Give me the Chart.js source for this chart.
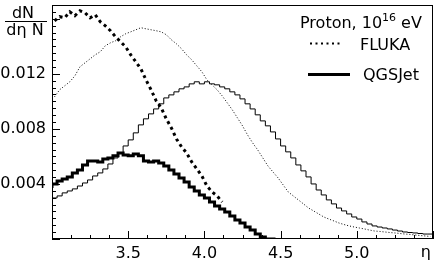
<!DOCTYPE html>
<html>
<head>
<meta charset="utf-8">
<script src="https://cdn.jsdelivr.net/npm/chart.js@4/dist/chart.umd.min.js"></script>
<style>
  body { margin: 0; background: #fff; }
  canvas { display: block; }
</style>
</head>
<body>
<canvas id="etaChart" width="442" height="262"></canvas>
<script>
// Binning of the eta histograms
var etaStart = 3.0;
var binWidth = 1 / 30;

// Tick labels
var xTickValues = [3.5, 4.0, 4.5, 5.0];
var yTickValues = [0.004, 0.008, 0.012];

// FLUKA, thick dotted
var flukaThick = [0.01585, 0.01615, 0.01607, 0.01651, 0.01622, 0.01658, 0.01644, 0.01607, 0.01629, 0.01578,
    0.01549, 0.01513, 0.01469, 0.01433, 0.01396, 0.01338, 0.01287, 0.01236, 0.01156, 0.01084,
    0.01004, 0.00953, 0.00873, 0.00807, 0.00727, 0.00669, 0.00625, 0.00560, 0.00509, 0.00458,
    0.00385, 0.00342, 0.00313, 0.00269];

// FLUKA, thin dotted
var flukaThin = [0.01033, 0.01084, 0.01113, 0.01142, 0.01185, 0.01251, 0.01280, 0.01309, 0.01338, 0.01360,
    0.01404, 0.01425, 0.01440, 0.01469, 0.01491, 0.01505, 0.01520, 0.01535, 0.01527, 0.01520,
    0.01513, 0.01505, 0.01484, 0.01447, 0.01418, 0.01382, 0.01338, 0.01302, 0.01258, 0.01215,
    0.01156, 0.01120, 0.01084, 0.01040, 0.00989, 0.00938, 0.00880, 0.00822, 0.00756, 0.00698,
    0.00647, 0.00589, 0.00531, 0.00487, 0.00444, 0.00393, 0.00342, 0.00313, 0.00284, 0.00255,
    0.00225, 0.00204, 0.00182, 0.00160, 0.00145, 0.00131, 0.00116, 0.00105, 0.00095, 0.00087,
    0.00080, 0.00073, 0.00065, 0.00058, 0.00055, 0.00051, 0.00047, 0.00044, 0.00040, 0.00036,
    0.00033, 0.00029, 0.00025, 0.00022, 0.00018];

// QGSJet, thick solid
var qgsThick = [0.00371, 0.00400, 0.00422, 0.00436, 0.00451, 0.00480, 0.00502, 0.00538, 0.00567, 0.00567,
    0.00560, 0.00582, 0.00589, 0.00604, 0.00625, 0.00611, 0.00604, 0.00618, 0.00604, 0.00567,
    0.00560, 0.00567, 0.00553, 0.00531, 0.00502, 0.00473, 0.00444, 0.00415, 0.00378, 0.00349,
    0.00320, 0.00298, 0.00269, 0.00240, 0.00218, 0.00196, 0.00167, 0.00138, 0.00116, 0.00087,
    0.00065, 0.00036, 0.00015, 0];

// QGSJet, thin solid
var qgsThin = [0.00284, 0.00298, 0.00313, 0.00335, 0.00349, 0.00364, 0.00385, 0.00407, 0.00429, 0.00458,
    0.00480, 0.00509, 0.00545, 0.00589, 0.00625, 0.00676, 0.00720, 0.00771, 0.00829, 0.00873,
    0.00909, 0.00945, 0.00982, 0.01025, 0.01047, 0.01069, 0.01091, 0.01105, 0.01127, 0.01142,
    0.01127, 0.01142, 0.01127, 0.01120, 0.01105, 0.01091, 0.01069, 0.01047, 0.01018, 0.00982,
    0.00945, 0.00902, 0.00858, 0.00822, 0.00778, 0.00727, 0.00676, 0.00633, 0.00589, 0.00538,
    0.00495, 0.00451, 0.00400, 0.00356, 0.00320, 0.00284, 0.00255, 0.00225, 0.00204, 0.00182,
    0.00160, 0.00145, 0.00124, 0.00109, 0.00095, 0.00087, 0.00080, 0.00073, 0.00065, 0.00058,
    0.00051, 0.00047, 0.00044, 0.00040, 0.00036];

var FONT = '"DejaVu Sans", sans-serif';

// points at bin centres (for the dotted polylines)
function centres(values) {
    return values.map(function(v, i) {
        return { x: etaStart + (i + 0.5) * binWidth, y: v };
    });
}

// points at bin edges (for the step histograms)
function edges(values) {
    var pts = values.map(function(v, i) {
        return { x: etaStart + i * binWidth, y: v };
    });
    pts.push({ x: etaStart + values.length * binWidth, y: values[values.length - 1] });
    return pts;
}

var decorations = {
    id: 'decorations',
    afterDraw: function(chart) {
        var ctx = chart.ctx;
        var area = chart.chartArea;
        var xs = chart.scales.x;
        var ys = chart.scales.y;
        var k, px, py, len;

        ctx.save();
        ctx.strokeStyle = '#000';
        ctx.fillStyle = '#000';
        ctx.lineWidth = 1;

        // frame
        ctx.strokeRect(area.left + 0.5, area.top + 0.5, area.right - area.left - 1, area.bottom - area.top - 1);

        // ticks, drawn inside the frame
        ctx.beginPath();
        for (k = 0; k <= 20; k++) {
            px = Math.round(xs.getPixelForValue(3.0 + k * 0.125)) + 0.5;
            len = (k % 4 === 0) ? 8 : 4;
            ctx.moveTo(px, area.bottom);
            ctx.lineTo(px, area.bottom - len);
        }
        for (k = 0; k <= 34; k++) {
            py = Math.round(ys.getPixelForValue(k * 0.0005)) + 0.5;
            len = (k % 8 === 0) ? 8 : 4;
            ctx.moveTo(area.left, py);
            ctx.lineTo(area.left + len, py);
        }
        ctx.stroke();

        // y title  dN / (dη N)
        ctx.font = '16px ' + FONT;
        ctx.textAlign = 'center';
        ctx.textBaseline = 'alphabetic';
        ctx.fillText('dN', 23, 18);
        ctx.beginPath();
        ctx.moveTo(5, 21.5);
        ctx.lineTo(47, 21.5);
        ctx.stroke();
        ctx.fillText('dη N', 25, 35);

        // x title
        ctx.textAlign = 'right';
        ctx.fillText('η', 431, 257);

        // legend
        ctx.textAlign = 'left';
        var t1 = 'Proton, 10';
        ctx.fillText(t1, 300, 28);
        var w1 = ctx.measureText(t1).width;
        ctx.font = '11px ' + FONT;
        ctx.fillText('16', 300 + w1, 21);
        var w2 = ctx.measureText('16').width;
        ctx.font = '16px ' + FONT;
        ctx.fillText('eV', 300 + w1 + w2 + 5, 28);

        ctx.fillText('FLUKA', 360, 50);
        ctx.fillText('QGSJet', 363, 80);

        ctx.lineWidth = 2;
        ctx.setLineDash([2, 3.5]);
        ctx.beginPath();
        ctx.moveTo(310, 43.5);
        ctx.lineTo(343, 43.5);
        ctx.stroke();

        ctx.setLineDash([]);
        ctx.lineWidth = 3;
        ctx.beginPath();
        ctx.moveTo(308, 74.5);
        ctx.lineTo(350, 74.5);
        ctx.stroke();

        ctx.restore();
    }
};

var chart = new Chart(document.getElementById('etaChart'), {
    type: 'line',
    data: {
        datasets: [{
            label: 'FLUKA thin',
            data: centres(flukaThin),
            borderColor: '#000',
            borderWidth: 1,
            borderDash: [1, 2],
            tension: 0
        }, {
            label: 'QGSJet thin',
            data: edges(qgsThin),
            borderColor: '#000',
            borderWidth: 1,
            stepped: 'after'
        }, {
            label: 'QGSJet thick',
            data: edges(qgsThick),
            borderColor: '#000',
            borderWidth: 3,
            stepped: 'after'
        }, {
            label: 'FLUKA thick',
            data: centres(flukaThick),
            borderColor: '#000',
            borderWidth: 3,
            borderDash: [3, 3.5],
            borderCapStyle: 'butt',
            tension: 0
        }]
    },
    options: {
        responsive: false,
        animation: false,
        devicePixelRatio: 1,
        layout: { autoPadding: false, padding: { top: 5, right: 9, left: 0, bottom: 0 } },
        elements: { point: { radius: 0 } },
        plugins: { legend: { display: false }, tooltip: { enabled: false } },
        scales: {
            x: {
                type: 'linear',
                min: 3.0,
                max: 5.5,
                grid: { display: false, drawTicks: false },
                border: { display: false },
                afterBuildTicks: function(scale) {
                    scale.ticks = xTickValues.map(function(v) { return { value: v }; });
                },
                afterFit: function(scale) {
                    scale.height = 23;
                    scale.paddingLeft = 0;
                    scale.paddingRight = 0;
                },
                ticks: {
                    autoSkip: false,
                    maxRotation: 0,
                    padding: 5,
                    color: '#000',
                    font: { family: FONT, size: 16 },
                    callback: function(v) { return v.toFixed(1); }
                }
            },
            y: {
                min: 0,
                max: 0.017,
                grid: { display: false, drawTicks: false },
                border: { display: false },
                afterBuildTicks: function(scale) {
                    scale.ticks = yTickValues.map(function(v) { return { value: v }; });
                },
                afterFit: function(scale) {
                    scale.width = 52;
                    scale.paddingTop = 0;
                    scale.paddingBottom = 0;
                },
                ticks: {
                    autoSkip: false,
                    padding: 6,
                    color: '#000',
                    font: { family: FONT, size: 16 },
                    callback: function(v) { return v.toFixed(3); }
                }
            }
        }
    },
    plugins: [decorations]
});
</script>
</body>
</html>
